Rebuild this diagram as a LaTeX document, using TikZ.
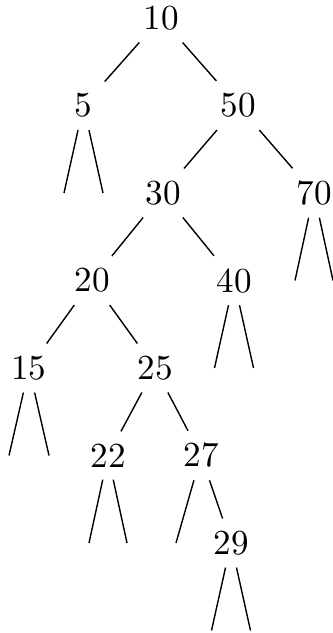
\documentclass[tikz,border=0pt]{standalone}
\usepackage{tikz}
\usetikzlibrary{positioning}

\begin{document}
\begin{tikzpicture}[
  key/.style={inner sep=0.3333em},
  link/.style={line width=0.4pt},
]
\useasboundingbox (0,0) rectangle (3.32,-6.33);
% keys
\node[key] (n10) at (1.61,-0.18) {10};
\node[key] (n5) at (0.835,-1.055) {5};
\node[key] (n50) at (2.38,-1.055) {50};
\node[key] (n30) at (1.63,-1.93) {30};
\node[key] (n70) at (3.14,-1.93) {70};
\node[key] (n20) at (0.92,-2.805) {20};
\node[key] (n40) at (2.34,-2.805) {40};
\node[key] (n15) at (0.29,-3.68) {15};
\node[key] (n25) at (1.55,-3.68) {25};
\node[key] (n22) at (1.08,-4.555) {22};
\node[key] (n27) at (2.01,-4.555) {27};
\node[key] (n29) at (2.31,-5.43) {29};
% empty subtrees
\coordinate (e5a) at (0.64,-1.93);
\coordinate (e5b) at (1.03,-1.93);
\coordinate (e70a) at (2.95,-2.805);
\coordinate (e70b) at (3.33,-2.805);
\coordinate (e40a) at (2.145,-3.68);
\coordinate (e40b) at (2.535,-3.68);
\coordinate (e15a) at (0.09,-4.555);
\coordinate (e15b) at (0.49,-4.555);
\coordinate (e22a) at (0.89,-5.43);
\coordinate (e22b) at (1.27,-5.43);
\coordinate (e27a) at (1.76,-5.43);
\coordinate (e29a) at (2.115,-6.305);
\coordinate (e29b) at (2.505,-6.305);
% edges
\draw[link] (n10) -- (n5);
\draw[link] (n10) -- (n50);
\draw[link] (n50) -- (n30);
\draw[link] (n50) -- (n70);
\draw[link] (n30) -- (n20);
\draw[link] (n30) -- (n40);
\draw[link] (n20) -- (n15);
\draw[link] (n20) -- (n25);
\draw[link] (n25) -- (n22);
\draw[link] (n25) -- (n27);
\draw[link] (n27) -- (n29);
\draw[link] (n5) -- (e5a);
\draw[link] (n5) -- (e5b);
\draw[link] (n70) -- (e70a);
\draw[link] (n70) -- (e70b);
\draw[link] (n40) -- (e40a);
\draw[link] (n40) -- (e40b);
\draw[link] (n15) -- (e15a);
\draw[link] (n15) -- (e15b);
\draw[link] (n22) -- (e22a);
\draw[link] (n22) -- (e22b);
\draw[link] (n27) -- (e27a);
\draw[link] (n29) -- (e29a);
\draw[link] (n29) -- (e29b);
\end{tikzpicture}
\end{document}
